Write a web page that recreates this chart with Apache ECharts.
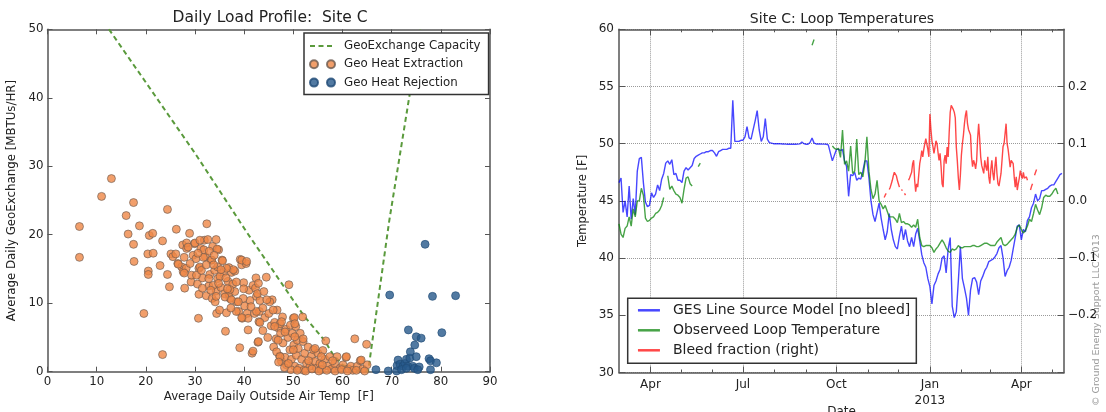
<!DOCTYPE html>
<html>
<head>
<meta charset="utf-8">
<script src="https://cdn.jsdelivr.net/npm/echarts@6/dist/echarts.min.js"></script>
<style>
  html, body { margin: 0; padding: 0; background: #ffffff; }
  #chart { width: 1106px; height: 412px; }
</style>
</head>
<body>
<div id="chart"></div>
<script>
// ---------- Daily load profile (left panel) ----------
// [average daily outside air temp (F), average daily geoexchange (MBTU/hr)]
const extractionPoints = [
  [6.5,21.2],[6.5,16.7],[11.0,25.6],[13.0,28.2],[16.0,22.8],[16.4,20.1],[17.5,24.7],[17.5,18.6],[17.6,16.1],[18.7,21.3],
  [19.6,8.5],[20.4,17.2],[20.5,14.7],[20.5,14.2],[20.7,19.9],[21.4,20.2],[21.5,17.3],[22.9,15.5],[23.4,2.5],[23.4,19.1],
  [24.4,23.7],[24.4,14.2],[24.8,12.4],[25.1,17.2],[25.5,16.8],[26.2,20.8],[26.5,15.8],[27.3,15.3],[27.6,14.6],[27.9,12.2],
  [27.5,18.5],[28.3,18.0],[28.9,20.2],[29.2,13.1],[29.6,17.0],[29.9,18.7],[30.2,16.5],[30.5,12.8],[30.7,7.8],[30.8,15.1],
  [30.8,11.3],[31.2,18.0],[31.5,13.7],[31.9,19.2],[32.1,16.8],[32.3,11.1],[32.4,21.6],[32.6,19.3],[32.8,12.5],[33.0,14.2],
  [33.3,16.3],[33.5,10.7],[33.6,18.3],[34.0,14.8],[34.1,10.2],[34.3,19.3],[34.3,11.8],[34.4,8.5],[34.6,13.6],[34.6,15.3],
  [34.8,17.8],[35.0,9.0],[35.3,12.3],[35.5,16.3],[35.8,14.5],[36.0,11.4],[36.2,5.9],[36.4,8.6],[36.7,13.2],[36.9,15.2],
  [37.1,10.7],[37.4,14.5],[37.7,12.8],[38.1,14.7],[38.5,10.2],[38.9,8.8],[39.1,3.5],[39.2,16.4],[39.5,15.6],[39.6,7.8],
  [39.9,13.0],[40.1,9.6],[40.4,15.8],[40.6,8.5],[40.8,6.1],[41.0,11.9],[41.2,10.4],[41.6,2.7],[41.8,12.6],[42.1,8.5],
  [42.4,13.7],[42.5,11.0],[42.8,4.3],[43.0,7.3],[43.1,8.8],[43.8,6.0],[44.2,7.9],[44.5,13.8],[44.8,5.0],[45.0,8.5],
  [45.5,6.7],[45.7,10.5],[46.0,3.6],[46.2,7.2],[46.5,4.8],[46.7,9.0],[46.9,6.4],[47.2,2.3],[47.4,5.6],[47.6,1.5],
  [47.8,8.0],[47.9,4.2],[48.3,2.1],[48.5,6.2],[48.6,1.0],[48.9,5.0],[49.1,12.7],[49.3,3.2],[49.4,6.8],[49.6,1.8],
  [49.8,5.6],[50.0,7.8],[50.1,3.9],[50.3,0.8],[50.5,6.6],[50.6,2.4],[50.8,4.6],[51.0,3.4],[51.2,0.5],[51.4,5.6],
  [51.7,1.8],[51.9,8.0],[52.0,4.4],[52.1,0.2],[52.3,2.7],[52.7,1.2],[53.0,3.6],[53.4,0.8],[53.7,2.3],[54.1,3.2],
  [54.4,1.5],[54.7,0.5],[55.0,2.7],[55.4,1.2],[55.7,0.3],[56.0,3.1],[56.6,4.5],[56.4,1.8],[57.1,0.8],[57.4,2.2],
  [57.8,0.4],[58.4,1.2],[58.9,2.2],[59.5,0.5],[60.1,1.0],[60.7,2.1],[61.2,0.4],[61.7,0.8],[62.1,0.2],[62.5,4.8],
  [63.0,0.8],[63.6,1.6],[64.1,0.4],[64.9,4.0],[65.0,1.0],
  [29.3,14.1],[30.3,14.1],[31.0,15.3],[31.7,16.7],[33.4,16.3],[35.6,16.2],[39.5,16.3],[40.5,16.1],[37.8,14.9],[36.4,15.1],
  [33.7,12.6],[31.5,12.2],[32.8,13.6],[35.1,13.9],[34.3,11.0],[36.9,11.4],[39.8,10.7],[43.2,10.4],[45.2,10.2],[45.9,9.0],
  [40.8,7.8],[43.2,7.2],[47.3,7.0],[28.3,18.8],[28.6,18.2],[30.0,18.8],[31.0,19.2],[34.5,17.9],[26.1,17.2],[27.8,16.7],
  [26.6,15.7],[28.2,15.1],[27.8,14.4],[42.3,12.2],[42.7,11.4],[38.1,11.7],[37.1,12.0],[36.1,10.9],[37.4,10.5],[38.8,10.2],
  [44.6,10.5],[42.5,8.8],[38.4,8.8],[39.5,7.9],[47.6,7.3],[50.2,7.9],[50.3,7.0],[46.2,6.6],[48.3,5.8],[50.3,5.1],
  [46.9,4.6],[42.9,4.4],[41.8,3.0],[46.6,2.9],[52.0,4.8],[50.0,3.2],[47.3,2.2],[47.0,1.4],[54.4,3.4],[55.7,2.2],
  [60.8,2.2],[63.8,1.7],[49.5,0.3],[50.8,0.2],[52.5,0.1],[53.8,0.4],[55.2,0.1],[56.8,0.2],[58.5,0.1],[59.8,0.3],
  [61.0,0.1],[62.8,0.2],[64.5,0.1],[48.2,0.6],[49.0,1.2],[53.1,1.6],[55.9,1.0],[58.0,1.6],
  [31.8,17.8],[32.9,17.6],[33.9,17.0],[30.6,17.3],[29.0,15.8],[31.3,14.8],[32.3,15.6],[33.8,15.6],[35.3,14.9],[36.3,13.7],
  [34.8,12.9],[33.2,11.9],[36.6,12.1],[38.4,13.1],[37.3,9.3],[39.9,12.1],[41.4,9.5],[43.8,9.3],[44.0,11.7],[42.9,12.9]
];

const rejectionPoints = [
  [66.8,0.3],[69.3,0.1],[69.6,11.2],[71.0,0.1],[71.1,0.9],[71.3,1.7],[71.7,1.1],[72.3,0.8],[72.7,1.2],[73.0,1.8],
  [73.3,0.8],[73.4,6.1],[73.7,2.0],[73.8,2.9],[74.3,0.8],[74.6,0.5],[74.7,3.9],[75.0,5.1],[75.0,2.2],[75.6,0.7],
  [76.0,4.9],[76.8,18.6],[77.6,1.9],[77.9,1.6],[77.9,0.3],[78.3,11.0],[79.1,1.3],[80.2,5.7],[83.0,11.1],[72.0,0.3],
  [75.3,0.3],[73.0,0.5]
];

// GeoExchange capacity envelope
const capacityTemp = [12.5, 30.0, 40.5, 52.0, 56.4, 58.0, 60.0, 62.5, 65.2, 69.5, 75.8];
const capacityLoad = [50.0, 31.9, 20.4, 8.3, 4.5, 2.6, 1.0, 0.2, 0.0, 22.0, 50.0];

// ---------- Loop temperatures (right panel) ----------
const loopStart = '2012-03-01';
const loopStepDays = 2;
// GES line source model, no bleed [F]
const modelTemps = [
  46.6,47.0,44.0,45.0,43.6,46.3,43.4,45.2,43.8,47.6, 48.7,48.8,46.6,44.9,44.5,44.6,45.7,45.3,45.6,46.4,
  45.9,46.9,47.4,48.3,48.5,48.2,48.6,47.3,47.4,46.8, 46.8,46.6,47.6,47.9,47.7,47.9,48.1,48.7,48.9,49.0,
  49.1,49.2,49.2,49.3,49.3,49.4,49.4,49.2,48.9,49.3, 49.4,49.5,49.5,49.5,49.6,
  49.6,53.8,50.2,50.2,50.2,50.3,50.3,50.6,51.5,50.5, 50.4,51.2,52.0,52.9,51.2,50.2,50.6,52.2,50.4,50.1,
  50.05,50.0,50.0,50.0,50.0,49.98,49.97,49.96,49.95,49.95, 49.95,49.95,49.95,49.96,49.98,50.15,50.0,49.95,49.95,50.1,
  50.5,50.05,49.98,49.97,49.97,49.96,49.96,49.95,49.9,
  49.2,48.5,49.0,49.5,49.5,49.4,49.5,48.5,48.0,45.4, 47.3,47.2,47.5,46.8,47.0,46.9,47.6,48.5,48.5,47.0,
  45.0,43.8,43.2,44.0,44.8,43.5,42.5,41.6,42.3,43.9, 42.5,41.6,41.0,40.8,41.9,42.8,41.6,42.5,41.5,41.0,
  41.8,41.0,42.1,42.6,41.5,40.3,39.6,39.2,38.2,37.5, 36.0,37.6,38.0,38.6,39.0,40.0,40.2,
  38.7,40.8,41.8,35.8,34.8,35.3,38.0,41.0,38.2,37.4, 36.5,35.0,37.2,38.2,38.3,37.9,36.8,38.0,38.4,38.9,
  39.2,39.7,39.8,39.9,40.1,40.4,40.9,41.1,40.0,38.4, 38.9,39.2,39.8,40.8,41.8,42.8,42.9,41.6,42.5,42.3,
  43.3,43.6,44.4,44.8,45.6,45.0,45.2,45.9,45.9,46.0, 46.1,46.3,46.4,46.4,46.7,47.0,47.3,47.4
];
// Observed loop temperature [F]; null = no reading
const observedTemps = [
  43.0,42.1,41.8,42.6,42.8,43.6,42.8,44.3,43.6,45.0, 45.0,46.1,45.5,43.5,43.2,43.3,43.5,43.6,43.9,44.0,
  44.2,44.6,45.3,
  null,
  47.2,46.0,46.3,45.9,45.6,45.5,45.3,44.8,46.0,47.0, 47.1,46.5,46.3,
  null,null,
  48.0,48.3,
  null,null,null,null,null,null,null,null,null,null, null,null,null,null,null,null,null,null,null,null,
  null,null,null,null,null,null,null,null,null,null, null,null,null,null,null,null,null,null,null,null,
  null,null,null,null,null,null,null,null,null,null, null,null,null,null,
  58.6,59.1,
  null,null,null,null,null,null,null,null,
  49.8,49.6,49.5,49.6,48.8,51.2,48.2,48.5,47.6,49.8, 47.4,47.6,50.4,47.3,47.5,47.1,48.3,50.6,47.6,46.0,
  45.2,45.6,46.8,45.0,44.7,44.3,44.6,44.1,43.6,43.6, 43.6,43.4,43.1,43.9,43.1,43.2,43.0,43.0,42.9,42.7,
  42.9,42.7,43.4,41.8,41.1,41.0,41.1,41.1,41.1,40.9, 40.5,40.8,41.0,41.3,41.6,41.3,40.9,40.6,40.5,40.8,
  40.7,40.8,41.1,40.9,40.9,41.0,41.0,41.0,41.0,41.1, 41.1,41.0,41.0,41.1,41.2,41.3,41.3,41.2,41.1,41.1,
  41.1,41.4,41.6,41.8,41.2,41.1,41.2,41.4,41.6,41.8, 42.1,42.7,42.9,42.5,42.2,42.4,42.8,43.4,43.2,43.9,
  44.7,44.2,43.8,44.4,45.3,45.5,45.4,45.4,45.6,45.9, 46.1,45.6,
  null,null
];
// Bleed fraction (right axis), daily
const bleedStart = '2012-11-17';
const bleedStepDays = 1;
const bleedFraction = [
  0.006,0.010,0.013,null,null,0.020,0.024,0.030,0.036,0.044, 0.050,0.051,0.044,0.036,0.030,0.024,null,0.020,0.018,null,
  0.013,0.010,null,null,0.036,0.040,0.042,0.050,0.065,0.071, 0.036,0.016,0.030,0.024,0.045,0.065,0.075,0.088,0.077,0.090,
  0.100,0.109,0.112,0.090,0.077,0.152,0.125,0.105,0.095,0.083, 0.094,0.105,0.100,0.085,0.071,0.083,0.060,0.030,0.024,0.070,
  0.080,0.065,0.094,0.077,0.120,0.155,0.167,0.164,0.160,0.155, 0.145,0.094,0.070,0.040,0.019,0.045,0.080,0.100,0.115,0.135,
  0.150,0.158,0.135,0.125,0.120,0.115,0.077,0.060,0.071,0.065, 0.056,0.070,0.110,0.135,0.109,0.077,0.062,0.055,0.048,0.071,
  0.060,0.053,0.077,0.042,0.030,0.055,0.071,0.048,0.036,0.060, 0.077,0.048,0.030,0.026,0.024,0.048,0.071,0.095,0.100,0.100,
  0.135,0.100,0.090,0.075,0.059,0.071,0.068,0.065,0.042,0.024, 0.042,0.019,0.030,0.040,0.053,0.045,0.039,0.050,0.040,0.042,
  0.042,0.036,null,null,0.019,0.025,0.030,null,0.045,0.050, 0.055
];

const dateRange = ['2012-03-01', '2013-05-13'];
const quarterTicks = ['2012-04-01', '2012-07-01', '2012-10-01', '2013-01-01', '2013-04-01'];
const monthTicks = ['2012-04-01','2012-05-01','2012-06-01','2012-07-01','2012-08-01','2012-09-01','2012-10-01',
  '2012-11-01','2012-12-01','2013-01-01','2013-02-01','2013-03-01','2013-04-01','2013-05-01'];
const monthNames = ['Jan','Feb','Mar','Apr','May','Jun','Jul','Aug','Sep','Oct','Nov','Dec'];

// ---------- helpers ----------
const DAY = 86400000;
const FONT = 'DejaVu Sans';
const INK = '#222222';
const SPINE = '#555555';

function datedSeries(start, stepDays, values) {
  const t0 = Date.parse(start);
  return values.map((v, i) => [t0 + i * stepDays * DAY, v === null ? '-' : v]);
}
const ts = list => list.map(s => Date.parse(s));

const spine = { show: true, onZero: false, lineStyle: { color: SPINE, width: 1.5 } };
const tickIn = len => ({ show: true, inside: true, length: len, lineStyle: { color: SPINE, width: 1 } });
const noLabel = { show: false };
const hideSymbol = { opacity: 0 };

const twoDots = 'path://M0,4a4,4 0 1,0 8,0a4,4 0 1,0 -8,0zM17,4a4,4 0 1,0 8,0a4,4 0 1,0 -8,0z';

const chart = echarts.init(document.getElementById('chart'), null, { renderer: 'canvas' });

const option = {
  animation: false,
  backgroundColor: '#ffffff',
  textStyle: { fontFamily: FONT },
  title: [
    { text: 'Daily Load Profile:  Site C', left: 270, top: 10, padding: 0, textAlign: 'center',
      textStyle: { fontFamily: FONT, fontSize: 15.5, fontWeight: 'normal', color: INK } },
    { text: 'Site C: Loop Temperatures', left: 842, top: 12, padding: 0, textAlign: 'center',
      textStyle: { fontFamily: FONT, fontSize: 14, fontWeight: 'normal', color: INK } }
  ],
  grid: [
    { left: 47.5, top: 29.3, width: 442.5, height: 342.4, show: false, outerBoundsMode: 'none', containLabel: false },
    { left: 619, top: 29.3, width: 445, height: 343.2, show: false, outerBoundsMode: 'none', containLabel: false }
  ],
  legend: [
    {
      orient: 'vertical', left: 304, top: 33, padding: [7, 8, 6, 5], itemGap: 6.3,
      itemWidth: 25, itemHeight: 8, borderColor: '#333', borderWidth: 1.5, backgroundColor: '#fff',
      textStyle: { fontFamily: FONT, fontSize: 11.8, color: INK, padding: [0, 0, 0, 4] },
      data: [
        { name: 'GeoExchange Capacity', itemStyle: hideSymbol },
        { name: 'Geo Heat Extraction', icon: twoDots },
        { name: 'Geo Heat Rejection', icon: twoDots }
      ]
    },
    {
      orient: 'vertical', left: 627.7, top: 298.3, padding: [5, 6, 6, 9], itemGap: 6,
      itemWidth: 22, itemHeight: 14, borderColor: '#333', borderWidth: 1.5, backgroundColor: '#fff',
      lineStyle: { width: 2.5 },
      textStyle: { fontFamily: FONT, fontSize: 14, color: INK, padding: [0, 0, 0, 8] },
      data: [
        { name: 'GES Line Source Model [no bleed]', itemStyle: hideSymbol },
        { name: 'Observeed Loop Temperature', itemStyle: hideSymbol },
        { name: 'Bleed fraction (right)', itemStyle: hideSymbol }
      ]
    }
  ],
  xAxis: [
    { gridIndex: 0, type: 'value', position: 'bottom', min: 0, max: 90, interval: 10,
      axisLine: spine, axisTick: tickIn(5), splitLine: { show: false },
      axisLabel: { fontFamily: FONT, fontSize: 11.8, color: INK, margin: 4 },
      name: 'Average Daily Outside Air Temp  [F]', nameLocation: 'middle', nameGap: 19, nameMoveOverlap: false,
      nameTextStyle: { fontFamily: FONT, fontSize: 11.8, color: INK, verticalAlign: 'top' } },
    { gridIndex: 0, type: 'value', position: 'top', min: 0, max: 90, interval: 10,
      axisLine: spine, axisTick: tickIn(5), axisLabel: noLabel, splitLine: { show: false } },

    { gridIndex: 1, type: 'value', position: 'bottom', min: Date.parse(dateRange[0]), max: Date.parse(dateRange[1]),
      axisLine: spine, axisTick: Object.assign(tickIn(6), { customValues: ts(quarterTicks) }),
      splitLine: { show: true, lineStyle: { color: '#9a9a9a', type: 'dotted', width: 1 } },
      axisLabel: {
        customValues: ts(quarterTicks), fontFamily: FONT, fontSize: 12, color: INK, margin: 4, lineHeight: 16,
        formatter: v => {
          const d = new Date(v);
          const m = monthNames[d.getUTCMonth()];
          return d.getUTCMonth() === 0 ? m + '\n' + d.getUTCFullYear() : m;
        }
      },
      name: 'Date', nameLocation: 'middle', nameGap: 33, nameMoveOverlap: false,
      nameTextStyle: { fontFamily: FONT, fontSize: 12, color: INK, verticalAlign: 'top' } },
    { gridIndex: 1, type: 'value', position: 'top', min: Date.parse(dateRange[0]), max: Date.parse(dateRange[1]),
      axisLine: spine, axisTick: Object.assign(tickIn(6), { customValues: ts(quarterTicks) }),
      axisLabel: { show: false, customValues: ts(quarterTicks) }, splitLine: { show: false } },
    { gridIndex: 1, type: 'value', position: 'bottom', min: Date.parse(dateRange[0]), max: Date.parse(dateRange[1]),
      axisLine: { show: false, onZero: false }, axisTick: Object.assign(tickIn(3), { customValues: ts(monthTicks) }),
      axisLabel: { show: false, customValues: ts(monthTicks) }, splitLine: { show: false } },
    { gridIndex: 1, type: 'value', position: 'top', min: Date.parse(dateRange[0]), max: Date.parse(dateRange[1]),
      axisLine: { show: false, onZero: false }, axisTick: Object.assign(tickIn(3), { customValues: ts(monthTicks) }),
      axisLabel: { show: false, customValues: ts(monthTicks) }, splitLine: { show: false } }
  ],
  yAxis: [
    { gridIndex: 0, type: 'value', position: 'left', min: 0, max: 50, interval: 10,
      axisLine: spine, axisTick: tickIn(5), splitLine: { show: false },
      axisLabel: { fontFamily: FONT, fontSize: 11.8, color: INK, margin: 4 },
      name: 'Average Daily GeoExchange [MBTUs/HR]', nameLocation: 'middle', nameGap: 30, nameRotate: 90,
      nameTextStyle: { fontFamily: FONT, fontSize: 11.8, color: INK } },
    { gridIndex: 0, type: 'value', position: 'right', min: 0, max: 50, interval: 10,
      axisLine: spine, axisTick: tickIn(5), axisLabel: noLabel, splitLine: { show: false } },

    { gridIndex: 1, type: 'value', position: 'left', min: 30, max: 60, interval: 5,
      axisLine: spine, axisTick: tickIn(6),
      splitLine: { show: true, lineStyle: { color: '#9a9a9a', type: 'dotted', width: 1 } },
      axisLabel: { fontFamily: FONT, fontSize: 12, color: INK, margin: 5 },
      name: 'Temperature [F]', nameLocation: 'middle', nameGap: 30, nameRotate: 90,
      nameTextStyle: { fontFamily: FONT, fontSize: 11.5, color: INK } },
    { gridIndex: 1, type: 'value', position: 'right', min: -0.3, max: 0.3, interval: 0.1,
      axisLine: spine, axisTick: tickIn(6), splitLine: { show: false },
      axisLabel: {
        fontFamily: FONT, fontSize: 12, color: INK, margin: 4,
        formatter: v => Math.abs(v) > 0.25 ? '' : (v < -1e-9 ? '\u2212' : '') + Math.abs(v).toFixed(1)
      } }
  ],
  series: [
    { name: 'GeoExchange Capacity', type: 'line', xAxisIndex: 0, yAxisIndex: 0, symbol: 'none', z: 2,
      lineStyle: { color: '#5a9a3c', width: 2, type: [5, 3.5] }, itemStyle: { color: '#5a9a3c' },
      data: capacityTemp.map((t, i) => [t, capacityLoad[i]]) },
    { name: 'Geo Heat Extraction', type: 'scatter', xAxisIndex: 0, yAxisIndex: 0, symbolSize: 8, z: 3,
      itemStyle: { color: '#ef8746', borderColor: '#6a5a50', borderWidth: 0.8 },
      data: extractionPoints },
    { name: 'Geo Heat Rejection', type: 'scatter', xAxisIndex: 0, yAxisIndex: 0, symbolSize: 8, z: 3,
      itemStyle: { color: '#27598b', borderColor: '#1f4a75', borderWidth: 0.8 },
      data: rejectionPoints },

    { name: 'GES Line Source Model [no bleed]', type: 'line', xAxisIndex: 2, yAxisIndex: 2, symbol: 'none',
      lineStyle: { color: 'rgba(0,0,255,0.72)', width: 1.4 }, itemStyle: { color: 'rgba(0,0,255,0.55)' },
      data: datedSeries(loopStart, loopStepDays, modelTemps) },
    { name: 'Observeed Loop Temperature', type: 'line', xAxisIndex: 2, yAxisIndex: 2, symbol: 'none',
      lineStyle: { color: 'rgba(0,128,0,0.72)', width: 1.4 }, itemStyle: { color: 'rgba(0,128,0,0.72)' },
      data: datedSeries(loopStart, loopStepDays, observedTemps) },
    { name: 'Bleed fraction (right)', type: 'line', xAxisIndex: 2, yAxisIndex: 3, symbol: 'none',
      lineStyle: { color: 'rgba(255,0,0,0.72)', width: 1.4 }, itemStyle: { color: 'rgba(255,0,0,0.6)' },
      data: datedSeries(bleedStart, bleedStepDays, bleedFraction) }
  ],
  graphic: [
    { type: 'text', x: 1097, y: 406, rotation: Math.PI / 2,
      style: { text: '\u00a9 Ground Energy Support LLC 2013', fontFamily: FONT, fontSize: 9.5,
               fill: '#9a9a9a', align: 'left', verticalAlign: 'middle' } }
  ]
};

chart.setOption(option);
</script>
</body>
</html>
